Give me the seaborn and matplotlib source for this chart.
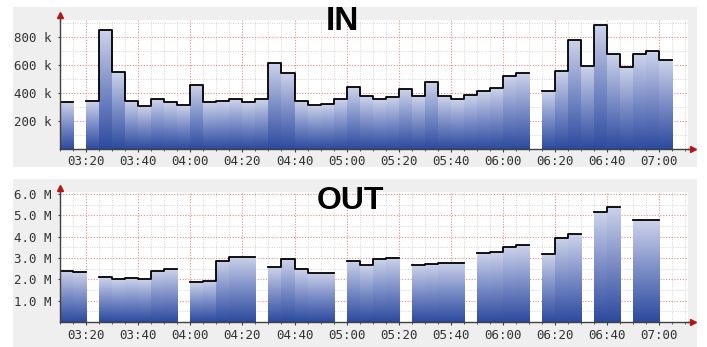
import numpy as np
import pandas as pd
import matplotlib
matplotlib.use("Agg")
import matplotlib.pyplot as plt
import seaborn as sns
from matplotlib.colors import LinearSegmentedColormap
from matplotlib.patches import Rectangle
from matplotlib.lines import Line2D
from matplotlib.ticker import FuncFormatter, FixedLocator, MultipleLocator

# ---------------- data ----------------
slot_times = [
    "03:10", "03:15", "03:20", "03:25", "03:30", "03:35", "03:40", "03:45", "03:50", "03:55",
    "04:00", "04:05", "04:10", "04:15", "04:20", "04:25", "04:30", "04:35", "04:40", "04:45", "04:50", "04:55",
    "05:00", "05:05", "05:10", "05:15", "05:20", "05:25", "05:30", "05:35", "05:40", "05:45", "05:50", "05:55",
    "06:00", "06:05", "06:10", "06:15", "06:20", "06:25", "06:30", "06:35", "06:40", "06:45", "06:50", "06:55",
    "07:00",
]

# IN traffic, in thousands (k); None = no data
in_values_k = [
    335, None, 345, 852, 550, 343, 306, 354, 332, 314,
    458, 332, 342, 354, 333, 354, 613, 541, 343, 313, 322, 358,
    440, 378, 358, 368, 426, 378, 478, 378, 358, 387, 416, 433,
    522, 543, None, 416, 560, 781, 594, 888, 678, 584, 678, 701,
    639,
]

# OUT traffic, in millions (M); None = no data
out_values_m = [
    2.41, 2.34, None, 2.11, 2.00, 2.05, 2.00, 2.41, 2.47, None,
    1.875, 1.94, 2.875, 3.06, 3.06, None, 2.58, 2.94, 2.47, 2.31, 2.31, None,
    2.875, 2.66, 2.95, 3.02, None, 2.66, 2.72, 2.77, 2.77, None, 3.22, 3.28,
    3.53, 3.59, None, 3.19, 3.95, 4.12, None, 5.16, 5.41, None, 4.77, 4.77,
    None,
]

x_tick_labels = ["03:20", "03:40", "04:00", "04:20", "04:40", "05:00", "05:20",
                 "05:40", "06:00", "06:20", "06:40", "07:00"]
in_y_ticks_k = [200, 400, 600, 800]
out_y_ticks_m = [1.0, 2.0, 3.0, 4.0, 5.0, 6.0]

panel_titles = ["IN", "OUT"]

# ---------------- helpers ----------------
def to_min(s):
    h, m = s.split(":")
    return int(h) * 60 + int(m)

STEP = 5.0
slot_min = np.array([to_min(s) for s in slot_times], dtype=float)
tick_min = [to_min(s) for s in x_tick_labels]

W, H = 707, 347
fig = plt.figure(figsize=(W / 100, H / 100), dpi=100, facecolor="white")

# gray panels (behind everything)
for (y0, y1) in [(7, 167), (179, 347)]:
    fig.patches.append(Rectangle((13 / W, 1 - y1 / H), (697 - 13) / W, (y1 - y0) / H,
                                 transform=fig.transFigure, facecolor="#efefef",
                                 edgecolor="none", zorder=-10))

cmap = LinearSegmentedColormap.from_list("rrd", ["#2c4a9e", "#7a8cc6", "#cdd3ea"])
grad = np.linspace(0, 1, 256).reshape(-1, 1)

def fig_rect(left, top, right, bottom):
    return [left / W, 1 - bottom / H, (right - left) / W, (bottom - top) / H]

def draw_panel(ax, values, scale, ymax, yticks, yminor, fmt, arrow_top_frac):
    vals = np.array([np.nan if v is None else v * scale for v in values], dtype=float)
    df = pd.DataFrame({"t": slot_min + STEP / 2, "v": vals}).dropna()
    sns.barplot(data=df, x="t", y="v", native_scale=True, width=1.0,
                errorbar=None, color="#7a8cc6", saturation=1, linewidth=0, ax=ax)
    for p in list(ax.patches):
        x0, w, h = p.get_x(), p.get_width(), p.get_height()
        im = ax.imshow(grad, extent=[x0, x0 + w, 0, h], origin="lower", cmap=cmap,
                       aspect="auto", zorder=1, interpolation="bilinear")
        im.set_clip_path(p)
        p.set_facecolor("none")

    # step outline, one unit per contiguous run
    rows = []
    run = 0
    prev_ok = False
    for i, v in enumerate(vals):
        ok = not np.isnan(v)
        if ok:
            if not prev_ok:
                run += 1
            rows.append((slot_min[i], v, run))
            nxt_ok = i + 1 < len(vals) and not np.isnan(vals[i + 1])
            if not nxt_ok:
                rows.append((slot_min[i] + STEP, v, run))
        prev_ok = ok
    ldf = pd.DataFrame(rows, columns=["t", "v", "run"])
    sns.lineplot(data=ldf, x="t", y="v", units="run", estimator=None,
                 drawstyle="steps-post", color="black", lw=1.3, ax=ax,
                 legend=False, zorder=3)

    ax.set_xlim(slot_min[0], slot_min[0] + 241)
    ax.set_ylim(0, ymax)
    ax.set_xlabel("")
    ax.set_ylabel("")
    ax.set_facecolor("white")

    ax.xaxis.set_major_locator(FixedLocator(tick_min))
    ax.xaxis.set_major_formatter(FuncFormatter(lambda v, _: x_tick_labels[tick_min.index(int(round(v)))]
                                               if int(round(v)) in tick_min else ""))
    ax.xaxis.set_minor_locator(MultipleLocator(5))
    ax.yaxis.set_major_locator(FixedLocator(yticks))
    ax.yaxis.set_minor_locator(MultipleLocator(yminor))
    ax.yaxis.set_major_formatter(FuncFormatter(fmt))

    ax.set_axisbelow(True)
    ax.grid(which="minor", color="#d4d4d4", ls=(0, (1, 1.5)), lw=0.7)
    ax.grid(which="major", color="#f08a8a", ls=(0, (1, 1.5)), lw=0.8)

    for s in ["top", "right"]:
        ax.spines[s].set_visible(False)
    for s in ["left", "bottom"]:
        ax.spines[s].set_color("#404040")
        ax.spines[s].set_linewidth(1.0)
        ax.spines[s].set_zorder(4)

    mono = "DejaVu Sans Mono"
    ax.tick_params(axis="x", which="major", length=2.5, width=0.8, color="#404040",
                   pad=2.5, labelsize=9, labelcolor="#333333")
    ax.tick_params(axis="x", which="minor", length=1.5, width=0.6, color="#404040")
    ax.tick_params(axis="y", which="major", length=1.5, width=0.8, color="#404040",
                   pad=4.5, labelsize=9, labelcolor="#333333")
    ax.tick_params(axis="y", which="minor", length=0)
    for lab in ax.get_xticklabels() + ax.get_yticklabels():
        lab.set_fontfamily(mono)

    # axis extensions with red arrowheads
    ax.add_line(Line2D([0, 0], [1, arrow_top_frac], transform=ax.transAxes,
                       color="#404040", lw=1.0, clip_on=False, zorder=4))
    ax.add_line(Line2D([1, 1.008], [0, 0], transform=ax.transAxes,
                       color="#404040", lw=1.0, clip_on=False, zorder=4))
    ax.plot([0], [arrow_top_frac], marker="^", ms=4, color="#b01818",
            transform=ax.transAxes, clip_on=False, zorder=5)
    ax.plot([1.008], [0], marker=">", ms=4, color="#b01818",
            transform=ax.transAxes, clip_on=False, zorder=5)


ax_in = fig.add_axes(fig_rect(60, 20, 688, 148.5))
draw_panel(ax_in, in_values_k, 1000.0, 925_000, [v * 1000 for v in in_y_ticks_k], 100_000,
           lambda v, _: f"{int(round(v / 1000))} k", 1 + 5 / 128.5)

ax_out = fig.add_axes(fig_rect(60, 192, 688, 322))
draw_panel(ax_out, out_values_m, 1e6, 6.1e6, [v * 1e6 for v in out_y_ticks_m], 0.5e6,
           lambda v, _: f"{v / 1e6:.1f} M", 1 + 4 / 130)

fig.text(342 / W, 1 - 22 / H, panel_titles[0], ha="center", va="center", fontsize=24,
         fontweight="bold", family="Liberation Sans", color="black", zorder=10)
fig.text(350 / W, 1 - 201 / H, panel_titles[1], ha="center", va="center", fontsize=23,
         fontweight="bold", family="Liberation Sans", color="black", zorder=10)

fig.savefig("out.png", dpi=100, facecolor="white")
